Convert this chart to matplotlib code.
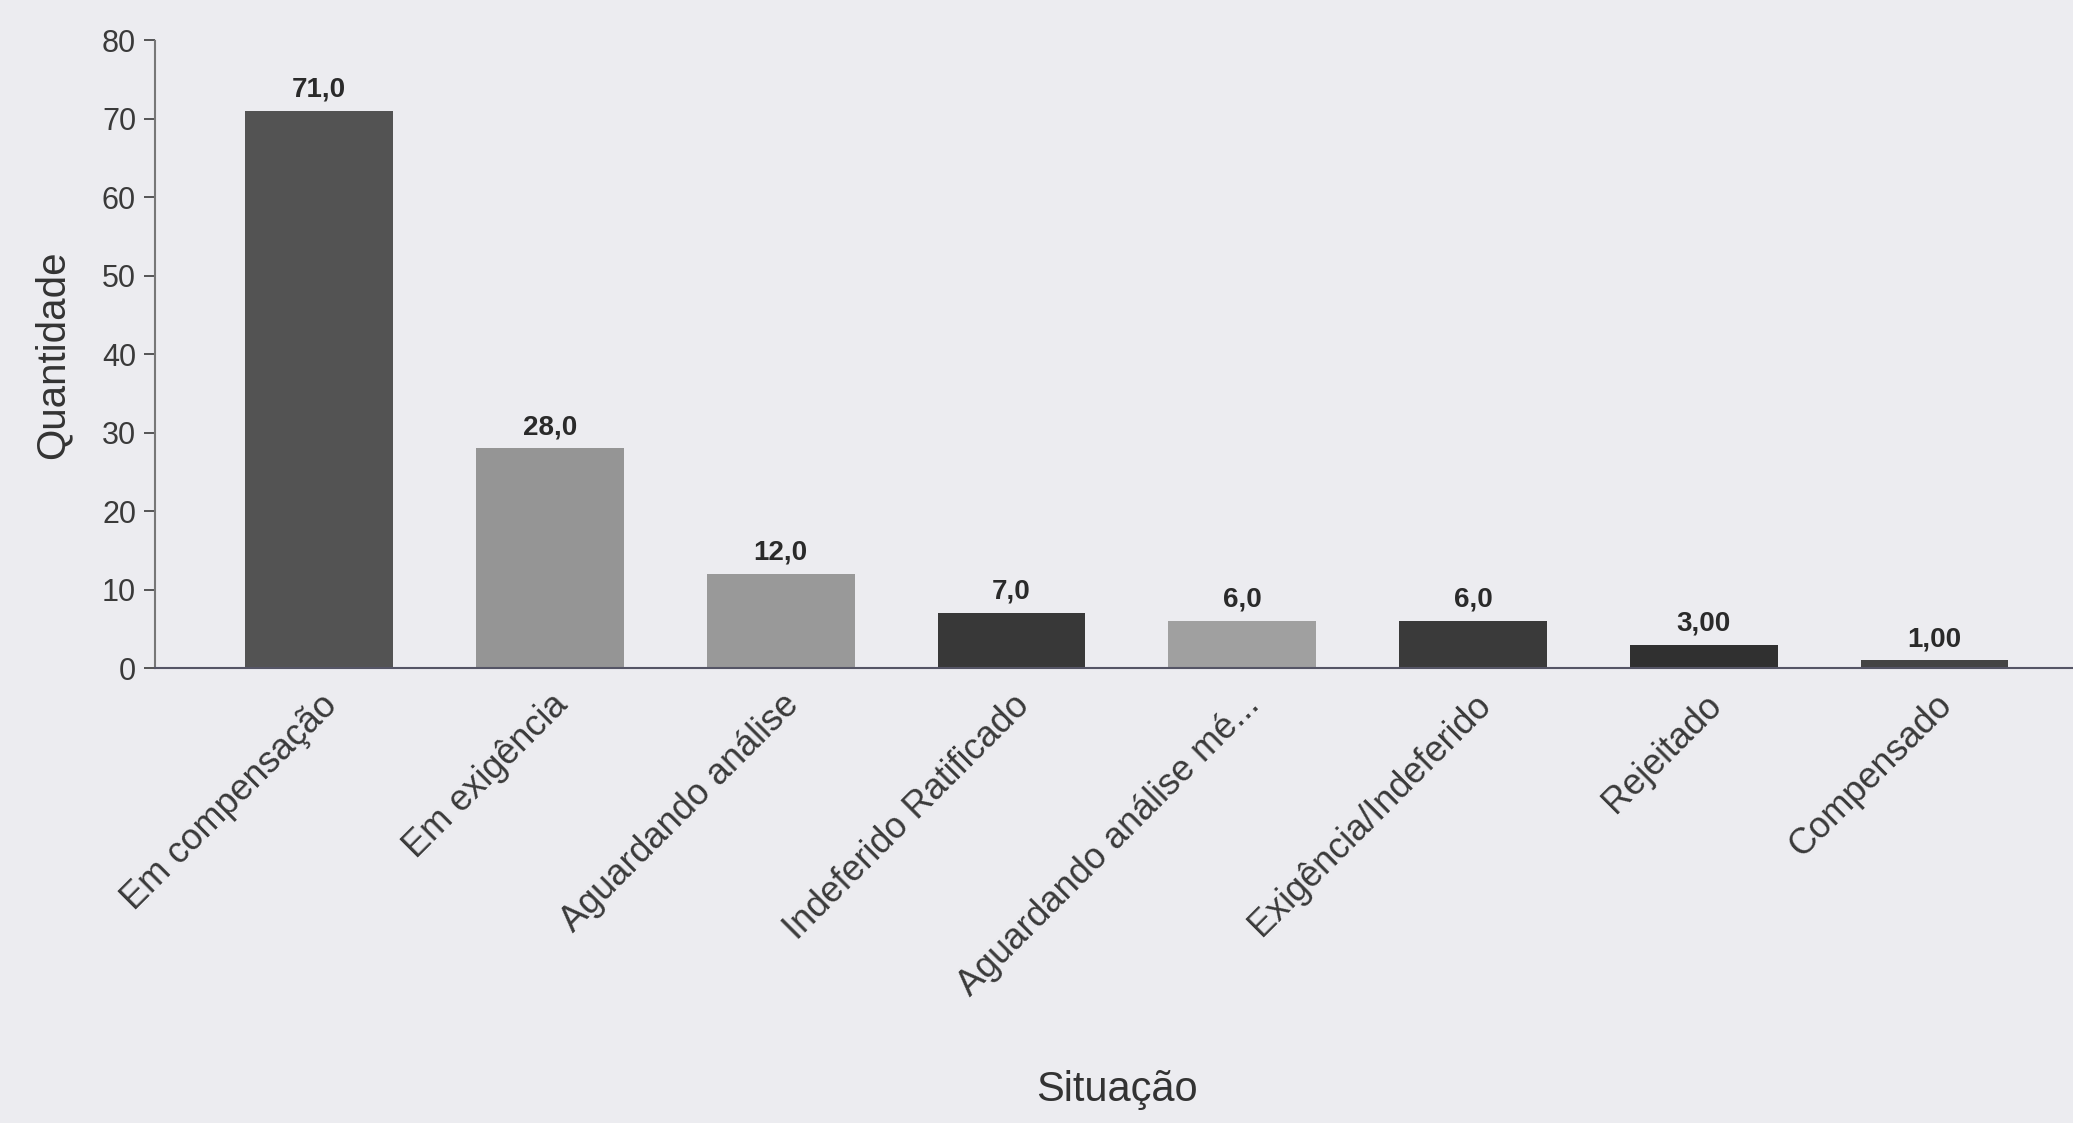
import matplotlib
matplotlib.use('Agg')
import matplotlib.pyplot as plt

# data
situacoes = ['Em compensação', 'Em exigência', 'Aguardando análise',
             'Indeferido Ratificado', 'Aguardando análise mé...',
             'Exigência/Indeferido', 'Rejeitado', 'Compensado']
quantidades = [71, 28, 12, 7, 6, 6, 3, 1]
rotulos = ['71,0', '28,0', '12,0', '7,0', '6,0', '6,0', '3,00', '1,00']
cores = ['#535353', '#959595', '#999999', '#383838',
         '#a0a0a0', '#3a3a3a', '#303030', '#444444']

plt.rcParams['font.family'] = ['Liberation Sans', 'DejaVu Sans']
bg = '#ececf0'
fig = plt.figure(figsize=(20.73, 11.23), dpi=100, facecolor=bg)
ax = fig.add_axes([0.075, 0.405, 0.925, 0.559])
ax.set_facecolor(bg)

x = list(range(len(situacoes)))
bars = ax.bar(x, quantidades, width=0.64, color=cores, zorder=2)
for b, txt in zip(bars, rotulos):
    ax.annotate(txt, (b.get_x() + b.get_width() / 2, b.get_height()),
                xytext=(0, 6), textcoords='offset points',
                ha='center', va='bottom', fontsize=20, fontweight='bold',
                color='#2a2a2a')

ax.set_xlim(-0.71, 7.6)
ax.set_ylim(0, 80)
ax.set_yticks(range(0, 81, 10))
ax.set_xticks(x)
ax.set_xticklabels(situacoes, rotation=45, ha='right', rotation_mode='anchor',
                   fontsize=26, color='#3a3a3a')
ax.tick_params(axis='x', length=0, pad=14)
ax.tick_params(axis='y', labelsize=22, colors='#3a3a3a', length=8, width=1.2, pad=6)

for s in ['top', 'right']:
    ax.spines[s].set_visible(False)
ax.spines['left'].set_color('#777777')
ax.spines['left'].set_linestyle((0, (1, 1)))
ax.spines['left'].set_linewidth(1.5)
ax.spines['bottom'].set_color('#555566')
ax.spines['bottom'].set_linewidth(1.5)

ax.set_ylabel('Quantidade', fontsize=29, color='#333333', labelpad=22)
fig.text(0.539, 0.012, 'Situação', ha='center', va='bottom', fontsize=30, color='#333333')

plt.savefig('out.png', dpi=100, facecolor=bg)
plt.close()
